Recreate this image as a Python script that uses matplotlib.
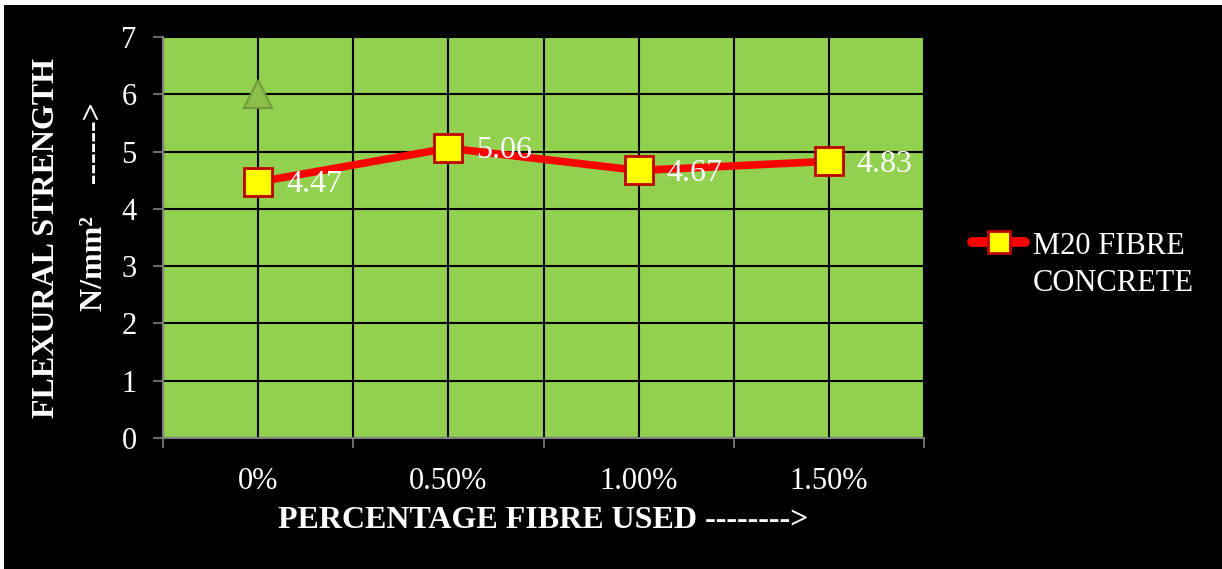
import matplotlib
matplotlib.use("Agg")
import matplotlib.pyplot as plt
from matplotlib.patches import Rectangle
from matplotlib.lines import Line2D

categories = ["0%", "0.50%", "1.00%", "1.50%"]
strength = [4.47, 5.06, 4.67, 4.83]
stray_x = [0]
stray_y = [6.0]
series_name = ["M20 FIBRE", "CONCRETE"]

plt.rcParams['font.family'] = ['Liberation Serif', 'DejaVu Serif']

W, H = 1222, 569
fig = plt.figure(figsize=(W / 100, H / 100), dpi=100, facecolor="white")
fig.patches.append(Rectangle((4 / W, 0), 1 - 4 / W, 1 - 5 / H, transform=fig.transFigure,
                             facecolor="black", edgecolor="none", zorder=-10))

ax = fig.add_axes([163 / W, 1 - 438 / H, (924 - 163) / W, (438 - 37) / H])
ax.set_facecolor("#92D050")

x = list(range(len(categories)))
ax.plot(x, strength, color="#FF0000", lw=5.5, marker="s", markersize=20,
        markerfacecolor="#FFFF00", markeredgecolor="#C00000", markeredgewidth=2,
        solid_capstyle="round", zorder=5)
ax.plot(stray_x, stray_y, linestyle="none", marker="^", markersize=20,
        markerfacecolor="#8DBE4C", markeredgecolor="#6F9A3A", markeredgewidth=1.5, zorder=5)

for xi, v in zip(x, strength):
    ax.annotate(f"{v:.2f}", (xi, v), xytext=(20, -2), textcoords="offset points",
                color="white", fontsize=23, va="center", ha="left", zorder=6)

ax.set_xlim(-0.5, len(categories) - 0.5)
ax.set_ylim(0, 7)
ax.set_yticks(range(0, 8))
ax.set_xticks([i - 0.5 for i in range(len(categories) + 1)])
ax.set_xticklabels([])
ax.set_xticks(x, minor=True)
ax.set_xticklabels(categories, minor=True)

ax.tick_params(axis="x", which="major", direction="out", length=7, width=1.2, color="#808080")
ax.tick_params(axis="x", which="minor", length=0, pad=21, labelsize=22, labelcolor="white")
ax.tick_params(axis="y", direction="out", length=7, width=1.2, color="#808080",
               labelsize=22, labelcolor="white", pad=12)

ax.grid(True, which="major", color="black", lw=1.5, zorder=1)
ax.grid(True, which="minor", axis="x", color="black", lw=1.5, zorder=1)
ax.set_axisbelow(True)

for s in ["top", "right"]:
    ax.spines[s].set_visible(False)
for s in ["left", "bottom"]:
    ax.spines[s].set_color("#808080")
    ax.spines[s].set_linewidth(1.5)

ax.set_xlabel("PERCENTAGE FIBRE USED -------->", color="white", fontsize=23,
              fontweight="bold", labelpad=7)
fig.text(47 / W, 1 - 238 / H, "FLEXURAL STRENGTH", rotation=90, color="white",
         fontsize=23, fontweight="bold", ha="center", va="center")
fig.text(95 / W, 1 - 207 / H, "N/mm²    ------>", rotation=90, color="white",
         fontsize=23, fontweight="bold", ha="center", va="center")

handle = Line2D([], [], color="#FF0000", lw=7, marker="s", markersize=16,
                markerfacecolor="#FFFF00", markeredgecolor="#C00000", markeredgewidth=2,
                solid_capstyle="round")
fig.legend(handles=[handle], labels=[""],
           loc="center left", bbox_to_anchor=(972 / W, 1 - 245 / H),
           frameon=False, fontsize=22, handlelength=1.75,
           handletextpad=0.0, borderaxespad=0, borderpad=0)
fig.text(1033 / W, 1 - 246 / H, series_name[0], color="white", fontsize=22,
         ha="left", va="center")
fig.text(1033 / W, 1 - 283 / H, series_name[1], color="white", fontsize=22,
         ha="left", va="center")

fig.savefig("out.png", dpi=100, facecolor=fig.get_facecolor())
